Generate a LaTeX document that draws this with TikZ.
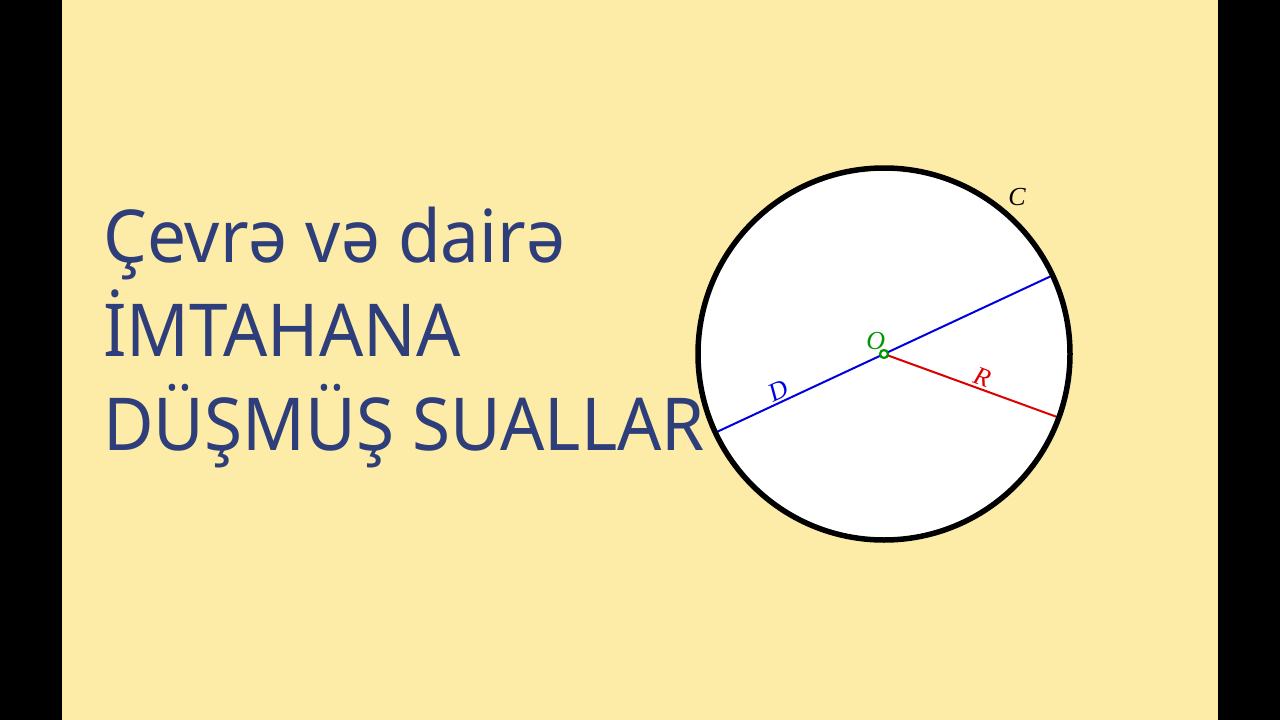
\documentclass[tikz,border=0pt]{standalone}
\usepackage{fontspec}
\usetikzlibrary{positioning}
\setmainfont[FakeStretch=0.95]{Noto Sans}
\newfontfamily\rotulofont{Liberation Serif}
\definecolor{fundo}{RGB}{253,235,168}
\definecolor{titulo}{RGB}{46,62,122}
\definecolor{verde}{RGB}{0,150,0}
\definecolor{azul}{RGB}{0,0,225}
\definecolor{vermelho}{RGB}{220,0,0}
\begin{document}
\begin{tikzpicture}[x=1pt,y=-1pt,
  titulo/.style={anchor=base west,text=titulo,inner sep=0pt,font=\fontsize{73}{73}\selectfont},
  rotulo/.style={font=\rotulofont\itshape\fontsize{26}{26}\selectfont,inner sep=2pt},
  segmento/.style={line width=2pt,shorten <=2.5pt,shorten >=2.5pt}]
\useasboundingbox (0,0) rectangle (1280,720);
%fundo
  \fill[black] (0,0) rectangle (1280,720);
  \fill[fundo] (62,0) rectangle (1218,720);
%titulo
  \node[titulo] (t1) at (103,262) {Çevrə və dairə};
  \node[titulo] (t2) at (103,356) {İMTAHANA};
  \node[titulo] (t3) at (103,450) {DÜŞMÜŞ SUALLAR};
%circulo
  \node[circle,fill=white,inner sep=0pt,outer sep=0pt,minimum size=372pt] (circ) at (884,354) {};
  \draw[segmento,azul,shorten <=0pt] (circ.205) -- node[rotulo,text=azul,sloped,above,pos=0.2] (lD) {D} (circ.25);
  \draw[segmento,vermelho,shorten <=0pt] (circ.center) -- node[rotulo,text=vermelho,sloped,above,pos=0.54] (lR) {R} (circ.340);
  \draw[line width=5.5pt] (circ.center) circle (186);
%rotulos
  \node[circle,draw=verde,fill=white,line width=2.2pt,inner sep=0pt,minimum size=8pt] (O) at (circ.center) {};
  \node[rotulo,text=verde,above left=-2pt and -7pt of O] (lO) {O};
  \node[rotulo] (lC) at (1017,197) {C};
\end{tikzpicture}
\end{document}
